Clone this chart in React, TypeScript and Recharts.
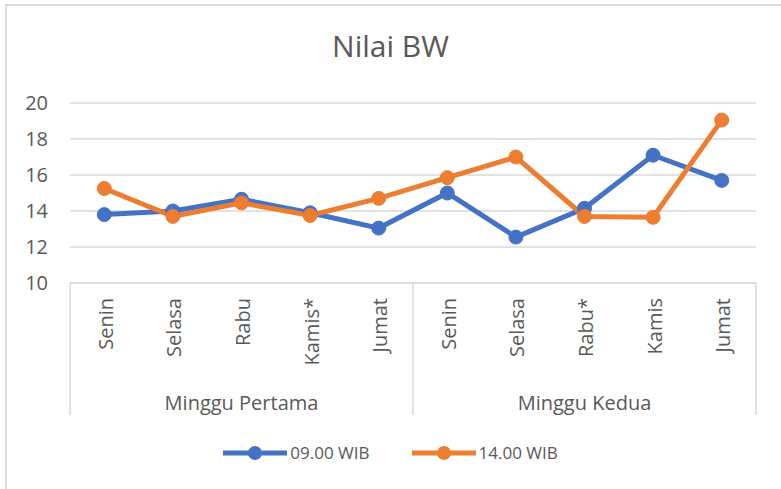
import { LineChart, Line, XAxis, YAxis, CartesianGrid, Legend } from 'recharts'

const days = ['Senin', 'Selasa', 'Rabu', 'Kamis*', 'Jumat', 'Senin', 'Selasa', 'Rabu*', 'Kamis', 'Jumat']
const weeks = ['Minggu Pertama', 'Minggu Kedua']
const wib09 = [13.8, 14.0, 14.65, 13.9, 13.05, 15.0, 12.55, 14.15, 17.1, 15.7]
const wib14 = [15.25, 13.7, 14.45, 13.75, 14.7, 15.85, 17.0, 13.7, 13.65, 19.05]
const yTicks = [10, 12, 14, 16, 18, 20]

const data = days.map((d, i) => ({ idx: i, day: d, a: wib09[i], b: wib14[i] }))

const W = 781
const H = 489
const PLOT_LEFT = 70
const PLOT_RIGHT = 756
const STEP = (PLOT_RIGHT - PLOT_LEFT) / days.length
const TEXT = '#595959'
const LINE = '#d9d9d9'
const FONT = '"Open Sans", sans-serif'
const BLUE = '#4472C4'
const ORANGE = '#ED7D31'
const GROUP = 5

function DayTick(props: any) {
  const { x, y, index } = props
  const parts: any[] = []
  if (index % GROUP === 0) {
    parts.push(<line key="l" x1={x - STEP / 2} x2={x - STEP / 2} y1={y} y2={y + 132} stroke={LINE} strokeWidth={1.5} />)
  }
  if (index === days.length - 1) {
    parts.push(<line key="r" x1={x + STEP / 2} x2={x + STEP / 2} y1={y} y2={y + 132} stroke={LINE} strokeWidth={1.5} />)
  }
  if (index % GROUP === 2) {
    parts.push(
      <text key="g" x={x} y={y + 127} textAnchor="middle" fill={TEXT} fontSize={20} fontFamily={FONT}>
        {weeks[Math.floor(index / GROUP)]}
      </text>
    )
  }
  return (
    <g>
      {parts}
      <g transform={`translate(${x + 1},${y + 15})`}>
        <text transform="rotate(-90)" textAnchor="end" dominantBaseline="central" fill={TEXT} fontSize={20} fontFamily={FONT}>
          {days[index]}
        </text>
      </g>
    </g>
  )
}

function LegendContent(props: any) {
  const { payload } = props
  return (
    <div style={{ display: 'flex', justifyContent: 'center', alignItems: 'center', gap: 42, fontFamily: FONT, fontSize: 17, color: TEXT }}>
      {(payload || []).map((p: any) => (
        <div key={p.value} style={{ display: 'flex', alignItems: 'center' }}>
          <svg width={64} height={16} style={{ marginRight: 3 }}>
            <line x1={0} x2={64} y1={8} y2={8} stroke={p.color} strokeWidth={5} />
            <circle cx={32} cy={8} r={7} fill={p.color} />
          </svg>
          <span>{p.value}</span>
        </div>
      ))}
    </div>
  )
}

export default function App() {
  return (
    <div style={{ position: 'absolute', left: 0, top: 0, width: W, height: H, overflow: 'hidden', background: '#fff' }}>
      <div style={{ position: 'absolute', left: 5, top: 4, width: W, height: H, border: `2px solid ${LINE}`, boxSizing: 'border-box' }} />
      <div style={{ position: 'absolute', left: 0, top: 25, width: W, textAlign: 'center', fontFamily: FONT, fontSize: 30, color: TEXT }}>
        Nilai BW
      </div>
      <div style={{ position: 'absolute', left: 0, top: 0 }}>
        <LineChart width={W} height={H} data={data} margin={{ top: 103, right: W - PLOT_RIGHT, bottom: 74, left: PLOT_LEFT - 40 }}>
          <CartesianGrid vertical={false} stroke={LINE} strokeWidth={1.5} />
          <XAxis
            dataKey="idx"
            type="category"
            height={132}
            padding={{ left: STEP / 2, right: STEP / 2 }}
            tickLine={false}
            tickSize={0}
            tickMargin={0}
            axisLine={{ stroke: LINE, strokeWidth: 1.5 }}
            tick={<DayTick />}
            interval={0}
          />
          <YAxis
            width={40}
            domain={[10, 20]}
            ticks={yTicks}
            axisLine={false}
            tickLine={false}
            tickMargin={16}
            tick={{ fill: TEXT, fontSize: 20, fontFamily: FONT }}
          />
          <Legend
            verticalAlign="middle"
            align="center"
            content={<LegendContent />}
            wrapperStyle={{ top: 441, left: 0, width: W }}
          />
          <Line
            dataKey="a"
            name="09.00 WIB"
            stroke={BLUE}
            strokeWidth={5}
            dot={{ r: 7, fill: BLUE, stroke: BLUE, strokeWidth: 1 }}
            activeDot={false}
            isAnimationActive={false}
          />
          <Line
            dataKey="b"
            name="14.00 WIB"
            stroke={ORANGE}
            strokeWidth={5}
            dot={{ r: 7, fill: ORANGE, stroke: ORANGE, strokeWidth: 1 }}
            activeDot={false}
            isAnimationActive={false}
          />
        </LineChart>
      </div>
    </div>
  )
}
